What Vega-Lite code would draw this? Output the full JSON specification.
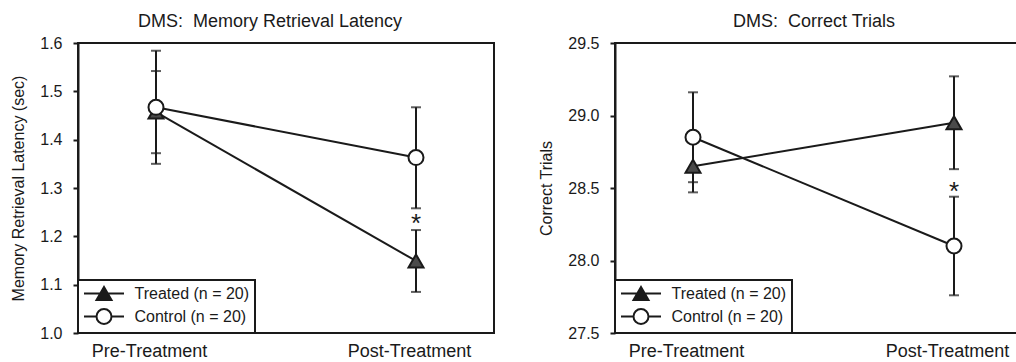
{
  "$schema": "https://vega.github.io/schema/vega-lite/v6.json",
  "padding": {"left": 9, "top": 12, "right": 0, "bottom": 0},
  "spacing": 42,
  "background": "white",
  "config": {
    "font": "Liberation Sans",
    "view": {"stroke": "#1a1a1a", "strokeWidth": 2},
    "axis": {"grid": false, "labelColor": "#1a1a1a", "titleColor": "#1a1a1a", "domainColor": "#1a1a1a", "tickColor": "#1a1a1a", "domainWidth": 2, "tickWidth": 2, "labelFont": "Liberation Sans", "titleFont": "Liberation Sans", "titleFontWeight": "normal"},
    "axisY": {"tickSize": 5, "labelPadding": 11, "titlePadding": 13, "labelFontSize": 16, "titleFontSize": 16},
    "axisX": {"labelFontSize": 18, "ticks": false, "domain": false, "labelPadding": 9, "labelOffset": -7, "labelAngle": 0, "title": null},
    "title": {"fontSize": 18, "fontWeight": "normal", "color": "#1a1a1a", "font": "Liberation Sans"},
    "legend": {"title": null, "orient": "bottom-left", "offset": 0, "strokeColor": "#1a1a1a", "strokeWidth": 2, "fillColor": "white", "padding": 5, "rowPadding": 0, "labelFontSize": 16, "labelColor": "#1a1a1a", "labelFont": "Liberation Sans", "symbolOffset": 12.5, "labelOffset": 22, "symbolStrokeWidth": 2, "symbolSize": 225}
  },
  "resolve": {"scale": {"shape": "independent", "y": "independent", "x": "independent"}, "legend": {"shape": "independent"}},
  "datasets": {
    "latency": [
      {"phase": "Pre-Treatment", "group": "Treated (n = 20)", "mean": 1.457, "lo": 1.372, "hi": 1.542},
      {"phase": "Post-Treatment", "group": "Treated (n = 20)", "mean": 1.149, "lo": 1.085, "hi": 1.213},
      {"phase": "Pre-Treatment", "group": "Control (n = 20)", "mean": 1.467, "lo": 1.350, "hi": 1.584},
      {"phase": "Post-Treatment", "group": "Control (n = 20)", "mean": 1.363, "lo": 1.258, "hi": 1.467}
    ],
    "trials": [
      {"phase": "Pre-Treatment", "group": "Treated (n = 20)", "mean": 28.65, "lo": 28.47, "hi": 28.83},
      {"phase": "Post-Treatment", "group": "Treated (n = 20)", "mean": 28.95, "lo": 28.63, "hi": 29.27},
      {"phase": "Pre-Treatment", "group": "Control (n = 20)", "mean": 28.85, "lo": 28.54, "hi": 29.16},
      {"phase": "Post-Treatment", "group": "Control (n = 20)", "mean": 28.10, "lo": 27.76, "hi": 28.44}
    ],
    "star1": [{"phase": "Post-Treatment", "value": 1.226}],
    "star2": [{"phase": "Post-Treatment", "value": 28.475}]
  },
  "hconcat": [
    {
      "width": 416,
      "height": 290,
      "title": {"text": "DMS:\u00a0 Memory Retrieval Latency", "dx": -16, "offset": 4, "frame": "group"},
      "data": {"name": "latency"},
      "encoding": {
        "x": {"field": "phase", "type": "nominal", "scale": {"type": "point", "padding": 0.3, "domain": ["Pre-Treatment", "Post-Treatment"]}, "axis": {"title": null}}
      },
      "layer": [
        {
          "mark": {"type": "rule", "color": "#1a1a1a", "strokeWidth": 2},
          "encoding": {
            "y": {"field": "lo", "type": "quantitative", "scale": {"domain": [1.0, 1.6], "nice": false, "zero": false}, "axis": {"title": "Memory Retrieval Latency (sec)", "values": [1.0, 1.1, 1.2, 1.3, 1.4, 1.5, 1.6], "format": ".1f"}},
            "y2": {"field": "hi"}
          }
        },
        {
          "mark": {"type": "tick", "color": "#1a1a1a", "thickness": 2, "size": 10},
          "encoding": {
            "y": {"field": "lo", "type": "quantitative", "scale": {"domain": [1.0, 1.6], "nice": false, "zero": false}, "axis": {"title": "Memory Retrieval Latency (sec)", "values": [1.0, 1.1, 1.2, 1.3, 1.4, 1.5, 1.6], "format": ".1f"}}
          }
        },
        {
          "mark": {"type": "tick", "color": "#1a1a1a", "thickness": 2, "size": 10},
          "encoding": {
            "y": {"field": "hi", "type": "quantitative", "scale": {"domain": [1.0, 1.6], "nice": false, "zero": false}, "axis": {"title": "Memory Retrieval Latency (sec)", "values": [1.0, 1.1, 1.2, 1.3, 1.4, 1.5, 1.6], "format": ".1f"}}
          }
        },
        {
          "mark": {"type": "line", "color": "#1a1a1a", "strokeWidth": 2},
          "encoding": {
            "y": {"field": "mean", "type": "quantitative", "scale": {"domain": [1.0, 1.6], "nice": false, "zero": false}, "axis": {"title": "Memory Retrieval Latency (sec)", "values": [1.0, 1.1, 1.2, 1.3, 1.4, 1.5, 1.6], "format": ".1f"}},
            "detail": {"field": "group", "type": "nominal"}
          }
        },
        {
          "transform": [{"filter": "datum.group === 'Treated (n = 20)'"}],
          "mark": {"type": "point", "shape": "triangle-up", "filled": true, "fill": "#4a4a4a", "stroke": "#1a1a1a", "strokeWidth": 2, "size": 225, "opacity": 1},
          "encoding": {
            "y": {"field": "mean", "type": "quantitative", "scale": {"domain": [1.0, 1.6], "nice": false, "zero": false}, "axis": {"title": "Memory Retrieval Latency (sec)", "values": [1.0, 1.1, 1.2, 1.3, 1.4, 1.5, 1.6], "format": ".1f"}}
          }
        },
        {
          "transform": [{"filter": "datum.group === 'Control (n = 20)'"}],
          "mark": {"type": "point", "shape": "circle", "filled": true, "fill": "#ffffff", "stroke": "#1a1a1a", "strokeWidth": 2, "size": 225, "opacity": 1},
          "encoding": {
            "y": {"field": "mean", "type": "quantitative", "scale": {"domain": [1.0, 1.6], "nice": false, "zero": false}, "axis": {"title": "Memory Retrieval Latency (sec)", "values": [1.0, 1.1, 1.2, 1.3, 1.4, 1.5, 1.6], "format": ".1f"}}
          }
        },
        {
          "transform": [{"filter": "false"}],
          "mark": {"type": "point", "filled": false, "color": "#1a1a1a", "strokeWidth": 2, "size": 225, "opacity": 1},
          "encoding": {
            "y": {"field": "mean", "type": "quantitative", "scale": {"domain": [1.0, 1.6], "nice": false, "zero": false}, "axis": {"title": "Memory Retrieval Latency (sec)", "values": [1.0, 1.1, 1.2, 1.3, 1.4, 1.5, 1.6], "format": ".1f"}},
            "shape": {"field": "group", "type": "nominal", "scale": {"domain": ["Treated (n = 20)", "Control (n = 20)"], "range": ["M-2.67,0H2.67M0,-0.87L1,0.87L-1,0.87ZM0,-0.58L0.75,0.725L-0.75,0.725ZM0,-0.29L0.5,0.58L-0.5,0.58ZM0,0L0.25,0.435L-0.25,0.435Z", "M-2.67,0H-1M1,0H2.67M-1,0A1,1,0,1,1,1,0A1,1,0,1,1,-1,0Z"]}, "legend": {"title": null}}
          }
        },
        {
          "data": {"name": "star1"},
          "mark": {"type": "text", "text": "*", "fontSize": 26, "color": "#1a1a1a", "baseline": "middle", "font": "Liberation Sans"},
          "encoding": {
            "y": {"field": "value", "type": "quantitative", "scale": {"domain": [1.0, 1.6], "nice": false, "zero": false}, "axis": {"title": "Memory Retrieval Latency (sec)", "values": [1.0, 1.1, 1.2, 1.3, 1.4, 1.5, 1.6], "format": ".1f"}}
          }
        }
      ]
    },
    {
      "width": 404,
      "height": 290,
      "title": {"text": "DMS:\u00a0 Correct Trials", "dx": -3, "offset": 4, "frame": "group"},
      "data": {"name": "trials"},
      "encoding": {
        "x": {"field": "phase", "type": "nominal", "scale": {"type": "point", "padding": 0, "range": [78, 339], "domain": ["Pre-Treatment", "Post-Treatment"]}, "axis": {"title": null}}
      },
      "layer": [
        {
          "mark": {"type": "rule", "color": "#1a1a1a", "strokeWidth": 2},
          "encoding": {
            "y": {"field": "lo", "type": "quantitative", "scale": {"domain": [27.5, 29.5], "nice": false, "zero": false}, "axis": {"title": "Correct Trials", "values": [27.5, 28.0, 28.5, 29.0, 29.5], "format": ".1f"}},
            "y2": {"field": "hi"}
          }
        },
        {
          "mark": {"type": "tick", "color": "#1a1a1a", "thickness": 2, "size": 10},
          "encoding": {
            "y": {"field": "lo", "type": "quantitative", "scale": {"domain": [27.5, 29.5], "nice": false, "zero": false}, "axis": {"title": "Correct Trials", "values": [27.5, 28.0, 28.5, 29.0, 29.5], "format": ".1f"}}
          }
        },
        {
          "mark": {"type": "tick", "color": "#1a1a1a", "thickness": 2, "size": 10},
          "encoding": {
            "y": {"field": "hi", "type": "quantitative", "scale": {"domain": [27.5, 29.5], "nice": false, "zero": false}, "axis": {"title": "Correct Trials", "values": [27.5, 28.0, 28.5, 29.0, 29.5], "format": ".1f"}}
          }
        },
        {
          "mark": {"type": "line", "color": "#1a1a1a", "strokeWidth": 2},
          "encoding": {
            "y": {"field": "mean", "type": "quantitative", "scale": {"domain": [27.5, 29.5], "nice": false, "zero": false}, "axis": {"title": "Correct Trials", "values": [27.5, 28.0, 28.5, 29.0, 29.5], "format": ".1f"}},
            "detail": {"field": "group", "type": "nominal"}
          }
        },
        {
          "transform": [{"filter": "datum.group === 'Treated (n = 20)'"}],
          "mark": {"type": "point", "shape": "triangle-up", "filled": true, "fill": "#4a4a4a", "stroke": "#1a1a1a", "strokeWidth": 2, "size": 225, "opacity": 1},
          "encoding": {
            "y": {"field": "mean", "type": "quantitative", "scale": {"domain": [27.5, 29.5], "nice": false, "zero": false}, "axis": {"title": "Correct Trials", "values": [27.5, 28.0, 28.5, 29.0, 29.5], "format": ".1f"}}
          }
        },
        {
          "transform": [{"filter": "datum.group === 'Control (n = 20)'"}],
          "mark": {"type": "point", "shape": "circle", "filled": true, "fill": "#ffffff", "stroke": "#1a1a1a", "strokeWidth": 2, "size": 225, "opacity": 1},
          "encoding": {
            "y": {"field": "mean", "type": "quantitative", "scale": {"domain": [27.5, 29.5], "nice": false, "zero": false}, "axis": {"title": "Correct Trials", "values": [27.5, 28.0, 28.5, 29.0, 29.5], "format": ".1f"}}
          }
        },
        {
          "transform": [{"filter": "false"}],
          "mark": {"type": "point", "filled": false, "color": "#1a1a1a", "strokeWidth": 2, "size": 225, "opacity": 1},
          "encoding": {
            "y": {"field": "mean", "type": "quantitative", "scale": {"domain": [27.5, 29.5], "nice": false, "zero": false}, "axis": {"title": "Correct Trials", "values": [27.5, 28.0, 28.5, 29.0, 29.5], "format": ".1f"}},
            "shape": {"field": "group", "type": "nominal", "scale": {"domain": ["Treated (n = 20)", "Control (n = 20)"], "range": ["M-2.67,0H2.67M0,-0.87L1,0.87L-1,0.87ZM0,-0.58L0.75,0.725L-0.75,0.725ZM0,-0.29L0.5,0.58L-0.5,0.58ZM0,0L0.25,0.435L-0.25,0.435Z", "M-2.67,0H-1M1,0H2.67M-1,0A1,1,0,1,1,1,0A1,1,0,1,1,-1,0Z"]}, "legend": {"title": null}}
          }
        },
        {
          "data": {"name": "star2"},
          "mark": {"type": "text", "text": "*", "fontSize": 26, "color": "#1a1a1a", "baseline": "middle", "font": "Liberation Sans"},
          "encoding": {
            "y": {"field": "value", "type": "quantitative", "scale": {"domain": [27.5, 29.5], "nice": false, "zero": false}, "axis": {"title": "Correct Trials", "values": [27.5, 28.0, 28.5, 29.0, 29.5], "format": ".1f"}}
          }
        }
      ]
    }
  ]
}
